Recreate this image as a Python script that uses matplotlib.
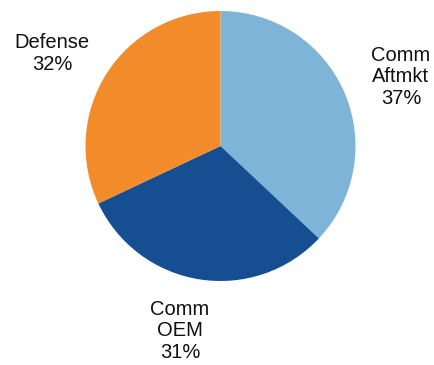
import matplotlib
matplotlib.use("Agg")
import matplotlib.pyplot as plt

categories = ["Comm\nAftmkt", "Comm\nOEM", "Defense"]
values = [37, 31, 32]
colors = ["#7DB4D8", "#154F91", "#F28C2A"]

W, H = 434, 365
fig = plt.figure(figsize=(W / 100, H / 100), dpi=100)
cx, cy, r = 220.5, 146, 135
ax = fig.add_axes([(cx - r) / W, (H - cy - r) / H, 2 * r / W, 2 * r / H])
ax.pie(values, colors=colors, startangle=90, counterclock=False,
       wedgeprops=dict(linewidth=0))
ax.set_xlim(-1, 1)
ax.set_ylim(-1, 1)
ax.set_aspect("equal")
ax.axis("off")

label_pos = [(401, 77), (180, 331), (52, 53.5)]
for cat, v, (px, py) in zip(categories, values, label_pos):
    fig.text(px / W, 1 - py / H, f"{cat}\n{v}%", ha="center", va="center",
             fontsize=14.5, family="Liberation Sans", linespacing=1.15,
             color="#111111")

fig.savefig("out.png", dpi=100)
